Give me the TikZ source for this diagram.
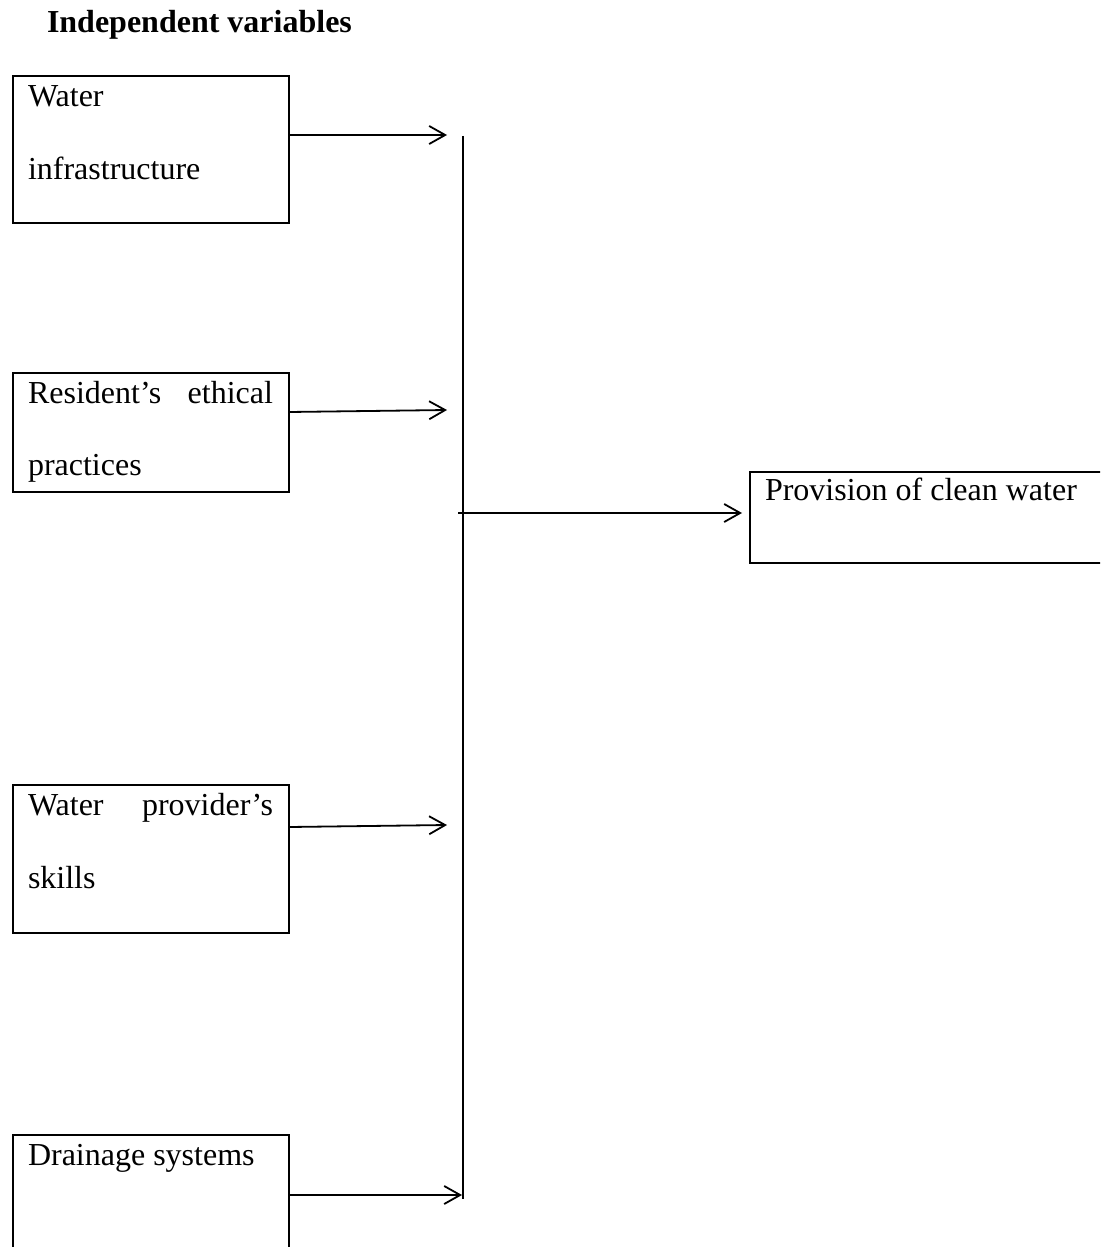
\documentclass[tikz,border=0pt]{standalone}
\usepackage{fontspec}
\setmainfont{Liberation Serif}
\usetikzlibrary{arrows.meta}
\begin{document}
\begin{tikzpicture}[x=0.5pt,y=-0.5pt,
  box/.style={draw,line width=0.9pt,inner sep=0pt,outer sep=0pt},
  txt/.style={anchor=base west,inner sep=0pt,outer sep=0pt,font=\fontsize{16}{18}\selectfont},
  ttl/.style={anchor=base west,inner sep=0pt,outer sep=0pt,font=\fontsize{16}{18}\selectfont\bfseries},
  arr/.style={line width=0.9pt,-{Straight Barb[length=8pt,width=9pt,line width=0.9pt]}},
  ln/.style={line width=0.9pt}]
\useasboundingbox (0,0) rectangle (1100,1247);
\clip (0,0) rectangle (1100,1247);
\fill[white] (0,0) rectangle (1100,1247);

\node[ttl] (title) at (47,33) {Independent variables};

\node[box,minimum width=138pt,minimum height=73.5pt] (b1) at (151,149.5) {};
\node[box,minimum width=138pt,minimum height=59.5pt] (b2) at (151,432.5) {};
\node[box,minimum width=138pt,minimum height=74pt] (b3) at (151,859) {};
\node[box,minimum width=138pt,minimum height=62.5pt] (b4) at (151,1197.5) {};
\node[box,minimum width=180pt,minimum height=45.5pt] (out) at (930,517.5) {};

\node[txt] (b1a) at (28,106) {Water};
\node[txt] (b1b) at (28,179) {infrastructure};
\node[txt] (b2a) at (28,403) {\hbox to 122.5pt{Resident’s\hfill ethical}};
\node[txt] (b2b) at (28,475) {practices};
\node[txt] (b3a) at (28,815) {\hbox to 122.5pt{Water\hfill provider’s}};
\node[txt] (b3b) at (28,888) {skills};
\node[txt] (b4a) at (28,1165) {Drainage systems};
\node[txt] (outa) at (765,500) {Provision of clean water};

\coordinate (vtop) at (463,136);
\coordinate (vbot) at (463,1199);
\coordinate (t1) at (447,135);
\coordinate (t2) at (447,410);
\coordinate (t3) at (447,825);
\coordinate (t4) at (462,1195);
\coordinate (hs) at (458,513);

\draw[ln] (vtop) -- (vbot);
\draw[arr] (b1.east |- t1) -- (t1);
\draw[arr] (289,412) -- (t2);
\draw[arr] (289,827) -- (t3);
\draw[arr] (b4.east |- t4) -- (t4);
\draw[arr,shorten >=4pt] (hs) -- (out.west |- hs);
\end{tikzpicture}
\end{document}
